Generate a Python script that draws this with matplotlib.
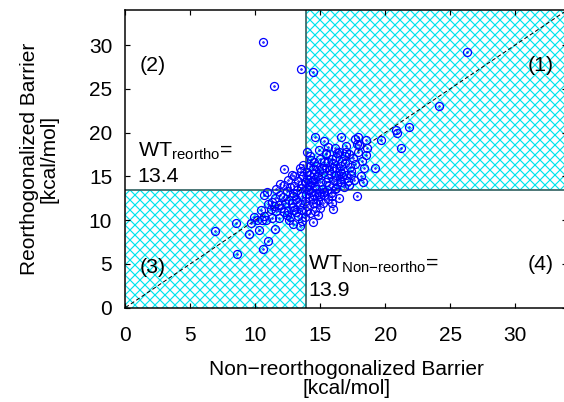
import matplotlib
matplotlib.use("Agg")
import matplotlib.pyplot as plt
from matplotlib.patches import Rectangle

plt.rcParams['font.family'] = ['Liberation Sans', 'DejaVu Sans']
plt.rcParams['mathtext.fontset'] = 'custom'
plt.rcParams['mathtext.rm'] = 'Liberation Sans'
plt.rcParams['mathtext.it'] = 'Liberation Sans'
plt.rcParams['hatch.linewidth'] = 0.7

# ---- data ----
barrier_nonreortho = [
    10.6, 11.4, 13.5, 14.4, 26.3, 24.1, 20.8, 20.9, 21.8, 21.2,
    19.7, 18.5, 17.7, 17.8, 16.6, 15.6, 15.4, 14.2, 14.3, 16.3,
    17.0, 18.5, 17.9, 18.6, 17.2, 17.5, 18.2, 19.2, 18.1, 17.8,
    15.9, 14.4, 13.4, 12.6, 6.9, 8.5, 8.6, 9.5, 10.3, 10.6,
    11.0, 11.5, 9.7, 10.1, 10.5, 10.8, 11.3, 12.2, 11.9, 10.9,
    11.3, 11.6, 11.8, 12.4, 13.0, 13.5, 14.0, 15.1, 15.7, 16.6,
    17.3, 16.8, 17.2, 16.7, 16.2, 16.1, 15.8, 15.6, 14.4, 13.3,
    12.5, 12.0, 11.5, 10.7, 10.7, 12.9, 13.0, 15.4, 15.9, 14.7,
    14.4, 15.3, 16.0, 16.7, 16.9, 17.7, 18.4, 16.4,
    12.8, 13.1, 13.4, 13.6, 13.8, 13.9, 14.1, 14.3, 14.5, 14.7,
    14.9, 15.1, 15.3, 15.5, 15.7, 15.0, 14.6, 14.2, 13.8, 13.5,
    13.2, 12.9, 12.6, 12.3, 12.1, 12.4, 12.7, 13.3, 13.7, 14.1,
    14.4, 14.8, 15.2, 15.6, 16.0, 16.3, 16.5, 15.9, 15.4, 14.9,
    14.5, 14.0, 13.6, 13.2, 12.9, 13.5, 14.0, 14.4, 14.8, 15.2,
    15.0, 14.6, 14.2, 13.8, 13.1, 12.7, 12.2, 11.8, 11.2, 11.0,
    14.3, 14.6, 15.4, 15.8, 16.2, 16.6, 17.0, 17.4, 17.1, 16.6,
    16.2, 17.6, 15.0, 14.5, 14.2, 15.6, 16.2, 16.9, 13.7, 13.4,
    12.8, 12.5, 12.2, 11.6, 13.9, 14.1, 15.3, 15.9, 14.8, 13.6,
    12.9, 16.4, 15.0, 13.0, 11.9, 11.4, 10.4, 9.9, 17.9, 18.0,
    17.0, 16.1, 14.9, 14.0, 14.6, 15.3, 17.4, 16.5, 18.3, 14.7,
    16.0, 13.9,
]
barrier_reortho = [
    30.4, 25.3, 27.3, 26.9, 29.2, 23.0, 20.3, 19.9, 20.6, 18.2,
    19.2, 19.2, 19.3, 18.7, 19.5, 18.4, 17.6, 17.3, 16.9, 17.7,
    17.8, 17.4, 19.5, 18.2, 17.6, 17.1, 16.8, 16.0, 15.0, 12.7,
    11.9, 9.8, 9.35, 10.0, 8.7, 9.7, 6.1, 8.4, 8.9, 6.7,
    7.6, 9.0, 9.7, 10.0, 10.0, 10.0, 10.2, 15.8, 14.1, 13.2,
    12.1, 11.0, 10.2, 10.6, 15.0, 15.6, 15.5, 16.0, 15.7, 16.2,
    16.1, 13.8, 14.0, 15.0, 15.2, 13.5, 13.1, 12.4, 12.4, 10.5,
    11.0, 11.4, 12.5, 12.9, 10.5, 13.1, 13.9, 17.7, 17.0, 16.2,
    15.8, 16.6, 16.5, 16.8, 16.5, 16.4, 15.9, 17.8,
    12.0, 12.4, 11.8, 12.8, 12.2, 13.0, 12.6, 13.2, 12.9, 13.5,
    13.0, 13.6, 12.9, 13.4, 14.0, 14.3, 14.7, 14.0, 14.4, 13.7,
    13.4, 12.7, 12.3, 11.9, 12.6, 13.3, 13.8, 14.5, 15.0, 15.2,
    14.6, 15.0, 15.4, 14.8, 14.6, 14.1, 15.6, 15.9, 15.9, 15.7,
    15.3, 14.7, 14.1, 12.1, 11.5, 11.2, 11.6, 11.9, 12.3, 12.0,
    11.4, 11.0, 10.8, 10.3, 10.9, 10.4, 10.9, 11.7, 11.3, 11.8,
    14.3, 13.9, 14.4, 15.3, 16.0, 15.4, 15.1, 15.6, 14.5, 14.3,
    13.7, 14.6, 17.0, 16.6, 16.2, 16.6, 17.2, 17.3, 16.3, 15.9,
    15.2, 14.6, 14.0, 13.6, 13.7, 13.4, 13.2, 12.7, 10.6, 9.9,
    9.6, 12.5, 12.7, 11.2, 12.9, 11.6, 11.2, 10.4, 17.8, 18.6,
    18.5, 18.2, 18.0, 17.8, 19.5, 19.0, 15.2, 14.7, 14.3, 12.0,
    11.3, 11.0,
]
wt_nonreortho = 13.9
wt_reortho = 13.4
axis_max = 34
ticks = [0, 5, 10, 15, 20, 25, 30]

# ---- figure ----
fig = plt.figure(figsize=(4.7, 3.35), dpi=120)
ax = fig.add_axes([0.2225, 0.235, 0.783, 0.740])
ax.set_xlim(0, axis_max)
ax.set_ylim(0, axis_max)

edge = '#2f6060'
hatch_col = '#00e5ee'
ax.add_patch(Rectangle((wt_nonreortho, wt_reortho), axis_max - wt_nonreortho,
                       axis_max - wt_reortho, facecolor='white',
                       edgecolor=hatch_col, linewidth=0, hatch='xxxx', zorder=1))
ax.add_patch(Rectangle((0, 0), wt_nonreortho, wt_reortho, facecolor='white',
                       edgecolor=hatch_col, linewidth=0, hatch='xxxx', zorder=1))
ax.axvline(wt_nonreortho, color=edge, lw=1.0, zorder=2)
ax.axhline(wt_reortho, color=edge, lw=1.0, zorder=2)

ax.plot([0, axis_max], [0, axis_max], color='black', ls=(0, (4, 2.5)),
        lw=0.6, zorder=3)

ax.plot(barrier_nonreortho, barrier_reortho, ls='none', marker='o',
        markersize=4.8, markerfacecolor='none', markeredgecolor='#0000ff',
        markeredgewidth=0.75, zorder=4)
ax.plot(barrier_nonreortho, barrier_reortho, ls='none', marker='.',
        markersize=1.0, color='#0000ff', zorder=4)

ax.set_xticks(ticks)
ax.set_yticks(ticks)
ax.tick_params(direction='in', top=True, right=True, length=3, width=0.7,
               labelsize=12.5)
ax.tick_params(axis='x', pad=11)
ax.tick_params(axis='y', pad=8)
for s in ax.spines.values():
    s.set_linewidth(0.9)

ax.set_xlabel('Non\u2212reorthogonalized Barrier\n[kcal/mol]', fontsize=12.5,
              linespacing=1.0, labelpad=9)
ax.set_ylabel('Reorthogonalized Barrier\n[kcal/mol]', fontsize=12.5,
              linespacing=1.05, labelpad=18)

fs = 12.8
ax.text(2.1, 27.7, '(2)', fontsize=fs, ha='center', va='center', zorder=5)
ax.text(32.0, 27.7, '(1)', fontsize=fs, ha='center', va='center', zorder=5)
ax.text(2.1, 4.6, '(3)', fontsize=fs, ha='center', va='center', zorder=5)
ax.text(32.0, 4.9, '(4)', fontsize=fs, ha='center', va='center', zorder=5)

ax.text(0.95, 17.2, r'WT$_{\mathrm{reortho}}$=', fontsize=fs, va='baseline',
        ha='left', zorder=5)
ax.text(0.95, 14.4, '13.4', fontsize=fs, va='baseline', ha='left', zorder=5)
ax.text(14.05, 4.3, 'WT$_{\\mathrm{Non{\u2212}reortho}}$=', fontsize=fs,
        va='baseline', ha='left', zorder=5)
ax.text(14.05, 1.35, '13.9', fontsize=fs, va='baseline', ha='left', zorder=5)

fig.savefig('out.png', dpi=120)
